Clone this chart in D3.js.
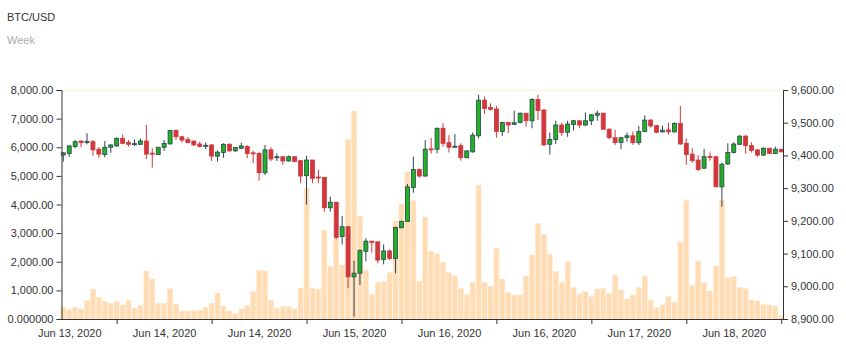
<!DOCTYPE html>
<html><head><meta charset="utf-8">
<script src="https://cdn.jsdelivr.net/npm/d3@7"></script>
<style>body{margin:0;background:#fff;} text{font-family:"Liberation Sans",Arial,sans-serif;}</style>
</head><body>
<svg id="c" width="846" height="351"></svg>
<script>
const openP = [9401,9406,9427,9444,9442,9442,9419,9403,9425,9429,
 9452,9440,9435,9434,9444,9407,9403,9425,9435,9476,
 9457,9449,9444,9435,9430,9432,9398,9409,9434,9414,
 9422,9427,9408,9406,9347,9417,9395,9396,9383,9396,
 9384,9338,9386,9334,9333,9240,9257,9152,9182,9029,
 9040,9107,9138,9136,9082,9108,9085,9179,9198,9302,
 9357,9337,9420,9419,9483,9439,9427,9430,9393,9411,
 9460,9569,9547,9542,9473,9501,9495,9501,9529,9506,
 9571,9539,9434,9449,9493,9471,9495,9506,9493,9506,
 9523,9529,9480,9454,9440,9455,9460,9439,9473,9508,
 9491,9472,9478,9472,9498,9437,9404,9386,9361,9397,
 9396,9304,9374,9409,9434,9459,9430,9417,9401,9422,
 9406,9419];
const closeP = [9408,9429,9442,9439,9443,9417,9404,9425,9432,9452,
 9437,9434,9436,9444,9404,9404,9425,9437,9476,9457,
 9447,9439,9432,9427,9431,9398,9410,9434,9414,9424,
 9429,9406,9406,9347,9417,9389,9396,9383,9396,9381,
 9337,9386,9330,9333,9240,9257,9149,9182,9029,9040,
 9109,9138,9134,9080,9108,9085,9180,9198,9304,9357,
 9337,9419,9418,9483,9437,9425,9428,9393,9414,9462,
 9569,9544,9541,9473,9501,9493,9500,9529,9506,9571,
 9537,9432,9449,9493,9470,9496,9506,9493,9506,9524,
 9529,9480,9454,9439,9454,9460,9439,9473,9508,9490,
 9471,9477,9472,9498,9435,9403,9384,9357,9396,9395,
 9304,9373,9409,9435,9459,9430,9415,9401,9422,9406,
 9419,9411];
const highP = [9410,9432,9447,9445,9468,9447,9425,9444,9434,9455,
 9464,9447,9449,9452,9493,9422,9425,9447,9478,9480,
 9459,9456,9445,9442,9440,9435,9415,9437,9437,9425,
 9439,9432,9415,9411,9432,9425,9406,9398,9400,9398,
 9386,9399,9386,9357,9333,9274,9257,9215,9182,9078,
 9113,9147,9138,9136,9128,9113,9182,9201,9313,9396,
 9360,9447,9454,9485,9498,9462,9465,9437,9414,9470,
 9585,9580,9559,9551,9501,9501,9537,9531,9529,9575,
 9585,9541,9470,9506,9500,9506,9508,9506,9531,9527,
 9537,9531,9483,9478,9457,9470,9473,9490,9522,9511,
 9493,9491,9500,9501,9551,9452,9422,9401,9420,9409,
 9398,9378,9437,9440,9462,9462,9440,9419,9425,9422,
 9427,9420];
const lowP = [9381,9396,9422,9425,9434,9399,9393,9394,9408,9427,
 9434,9427,9429,9432,9389,9363,9403,9414,9434,9447,
 9439,9437,9429,9425,9419,9383,9381,9393,9411,9411,
 9419,9391,9376,9323,9340,9383,9383,9371,9381,9381,
 9315,9250,9315,9315,9228,9228,9144,9128,8994,8907,
 9004,9077,9103,9070,9067,9080,9040,9177,9198,9286,
 9332,9335,9406,9406,9427,9409,9425,9384,9393,9408,
 9452,9527,9537,9454,9460,9468,9493,9498,9488,9483,
 9508,9430,9403,9435,9460,9457,9476,9483,9490,9493,
 9506,9478,9450,9432,9419,9442,9432,9432,9471,9485,
 9468,9470,9464,9470,9432,9371,9378,9353,9359,9384,
 9304,9243,9371,9406,9432,9406,9409,9396,9399,9406,
 9404,9410];
const volume = [407,338,407,349,640,1048,757,617,547,605,
 489,652,384,477,1676,1397,547,547,1059,524,
 279,279,291,314,407,547,908,454,279,186,
 349,466,966,1699,1676,663,372,442,442,349,
 1083,4563,1071,1036,3108,1827,2817,1886,6274,7263,
 3597,1711,861,1269,1304,1618,3422,4016,5145,4132,
 1327,3562,2351,2270,1979,1618,1502,1059,850,1280,
 4679,1269,1141,2468,1397,920,838,838,1502,2235,
 3341,2968,2270,1653,1280,2002,1094,873,954,780,
 1048,1071,896,1536,1013,698,838,1106,1502,663,
 396,489,780,594,2689,4155,1164,2025,1269,978,
 1862,4155,1443,1478,1106,1059,663,629,512,489,
 454,105];
const tickIdx = [9,25,41,57,73,89,105,121];
const tickLabels = ["Jun 13, 2020","Jun 14, 2020","Jun 14, 2020","Jun 15, 2020","Jun 16, 2020","Jun 16, 2020","Jun 17, 2020","Jun 18, 2020"];
const volTicks = [0,1000,2000,3000,4000,5000,6000,7000,8000];
const priceTicks = [8900,9000,9100,9200,9300,9400,9500,9600];

const svg = d3.select("#c");
const L = 61.5, R = 783, T = 90, B = 319;
const idx = d3.range(openP.length);
const x = d3.scalePoint().domain(idx).range([L, R]).padding(0.3);
const yV = d3.scaleLinear().domain([0, 8000]).range([B, T]);
const yP = d3.scaleLinear().domain([8900, 9600]).range([B, T]);
const step = x.step();

svg.append("text").attr("x", 7).attr("y", 21).attr("font-size", 11).attr("fill", "#333").text("BTC/USD");
svg.append("text").attr("x", 7).attr("y", 44).attr("font-size", 11).attr("fill", "#aaa").text("Week");

svg.append("line").attr("x1", L).attr("x2", R).attr("y1", T + 0.5).attr("y2", T + 0.5)
  .attr("stroke", "#fdf2e4").attr("stroke-width", 1.5);

// volume bars
svg.append("g").selectAll("rect").data(idx).join("rect")
  .attr("x", i => x(i) - 2.5).attr("width", 5)
  .attr("y", i => yV(volume[i])).attr("height", i => B - yV(volume[i]))
  .attr("fill", "#ffdcb3").attr("stroke", "#ffe8cc").attr("stroke-width", 0.6);

// candles
const up = i => closeP[i] >= openP[i];
const cg = svg.append("g");
cg.selectAll("line").data(idx).join("line")
  .attr("x1", i => x(i)).attr("x2", i => x(i))
  .attr("y1", i => yP(highP[i])).attr("y2", i => yP(lowP[i]))
  .attr("stroke", i => up(i) ? "#2c4156" : "#d0383c").attr("stroke-width", 1);
cg.selectAll("rect").data(idx).join("rect")
  .attr("x", i => x(i) - 2).attr("width", 4)
  .attr("y", i => yP(Math.max(openP[i], closeP[i])))
  .attr("height", i => Math.max(1, Math.abs(yP(openP[i]) - yP(closeP[i]))))
  .attr("fill", i => up(i) ? "#1fb31f" : "#d0383c")
  .attr("stroke", i => up(i) ? "#2c4156" : "#d0383c").attr("stroke-width", 0.8);

// axes
const fmtV = v => v === 0 ? "0.000000" : d3.format(",.2f")(v);
const gl = svg.append("g").attr("transform", `translate(${L},0)`)
  .call(d3.axisLeft(yV).tickValues(volTicks).tickFormat(fmtV).tickSizeOuter(0).tickSize(5));
const gr = svg.append("g").attr("transform", `translate(${R},0)`)
  .call(d3.axisRight(yP).tickValues(priceTicks).tickFormat(d3.format(",.2f")).tickSizeOuter(0).tickSize(5));
const gb = svg.append("g").attr("transform", `translate(0,${B})`)
  .call(d3.axisBottom(x).tickValues(tickIdx).tickFormat((d, k) => tickLabels[k]).tickSizeOuter(0).tickSize(5));
gb.select(".domain").attr("d", `M${L},0.5H${R}`);
gb.selectAll(".tick text").attr("dx", -8 * step).attr("dy", "0.9em");
[gl, gr, gb].forEach(g => {
  g.selectAll("text").attr("font-size", 11).attr("fill", "#333").attr("font-family", "Liberation Sans, Arial, sans-serif");
  g.selectAll("line,path").attr("stroke", "#333");
});
</script>
</body></html>
